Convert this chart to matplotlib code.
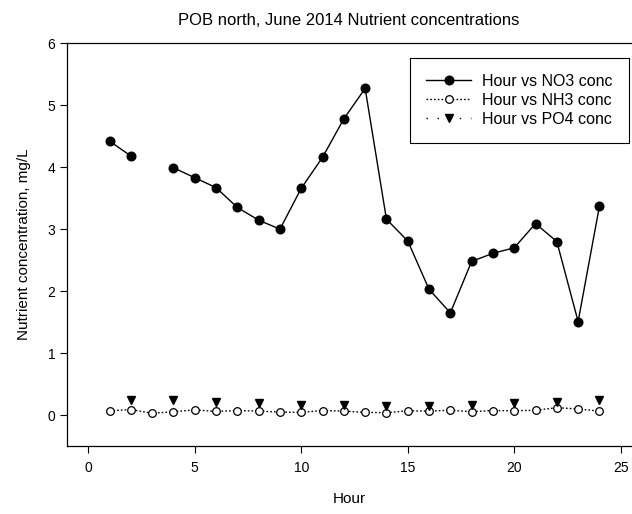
import numpy as np
import matplotlib
matplotlib.use("Agg")
import matplotlib.pyplot as plt

plt.rcParams['font.family'] = ['Liberation Sans', 'DejaVu Sans']

hours = list(range(1, 25))
no3 = [4.42, 4.18, np.nan, 3.99, 3.83, 3.67, 3.35, 3.145, 3.00, 3.66, 4.16, 4.78,
       5.27, 3.16, 2.81, 2.03, 1.65, 2.48, 2.61, 2.70, 3.09, 2.80, 1.51, 3.37]
nh3 = [0.07, 0.09, 0.03, 0.055, 0.085, 0.06, 0.075, 0.065, 0.05, 0.045, 0.075, 0.065,
       0.045, 0.04, 0.07, 0.065, 0.08, 0.055, 0.075, 0.07, 0.08, 0.12, 0.10, 0.065]
po4 = [np.nan, 0.24, np.nan, 0.25, np.nan, 0.21, np.nan, 0.19, np.nan, 0.17, np.nan, 0.16,
       np.nan, 0.15, np.nan, 0.145, np.nan, 0.165, np.nan, 0.19, np.nan, 0.21, np.nan, 0.25]

fig = plt.figure(figsize=(6.32, 5.14), dpi=100)
ax = fig.add_axes([0.106, 0.132, 0.893, 0.784])

ax.plot(hours, no3, '-', color='black', lw=1.0, marker='o', ms=6.2,
        mfc='black', mec='black', label='Hour vs NO3 conc')
ax.plot(hours, nh3, linestyle=(0, (1.2, 1.5)), color='black', lw=1.0, marker='o', ms=5.5,
        mfc='white', mec='black', mew=0.9, label='Hour vs NH3 conc')
ax.plot(hours, po4, linestyle=(0, (1, 7)), color='black', lw=1.0, marker='v', ms=6.2,
        mfc='black', mec='black', label='Hour vs PO4 conc')

ax.set_xlim(-1, 25.5)
ax.set_ylim(-0.5, 6)
ax.set_xticks([0, 5, 10, 15, 20, 25])
ax.set_yticks([0, 1, 2, 3, 4, 5, 6])
ax.tick_params(direction='out', length=5, width=0.8, labelsize=10, top=False, right=False)
ax.tick_params(axis='x', pad=6)
for s in ax.spines.values():
    s.set_linewidth(0.9)
ax.spines['right'].set_visible(False)

ax.set_xlabel('Hour', fontsize=11, labelpad=12)
ax.set_ylabel('Nutrient concentration, mg/L', fontsize=11, labelpad=12)
ax.set_title('POB north, June 2014 Nutrient concentrations', fontsize=12, pad=13)

leg = ax.legend(loc='upper right', bbox_to_anchor=(0.9955, 0.963), fontsize=11.5,
                frameon=True, fancybox=False, edgecolor='black', framealpha=1,
                handlelength=2.8, borderpad=1.0, labelspacing=0.25, handletextpad=0.7,
                borderaxespad=0)
leg.get_frame().set_linewidth(0.8)

fig.savefig('out.png', dpi=100)
